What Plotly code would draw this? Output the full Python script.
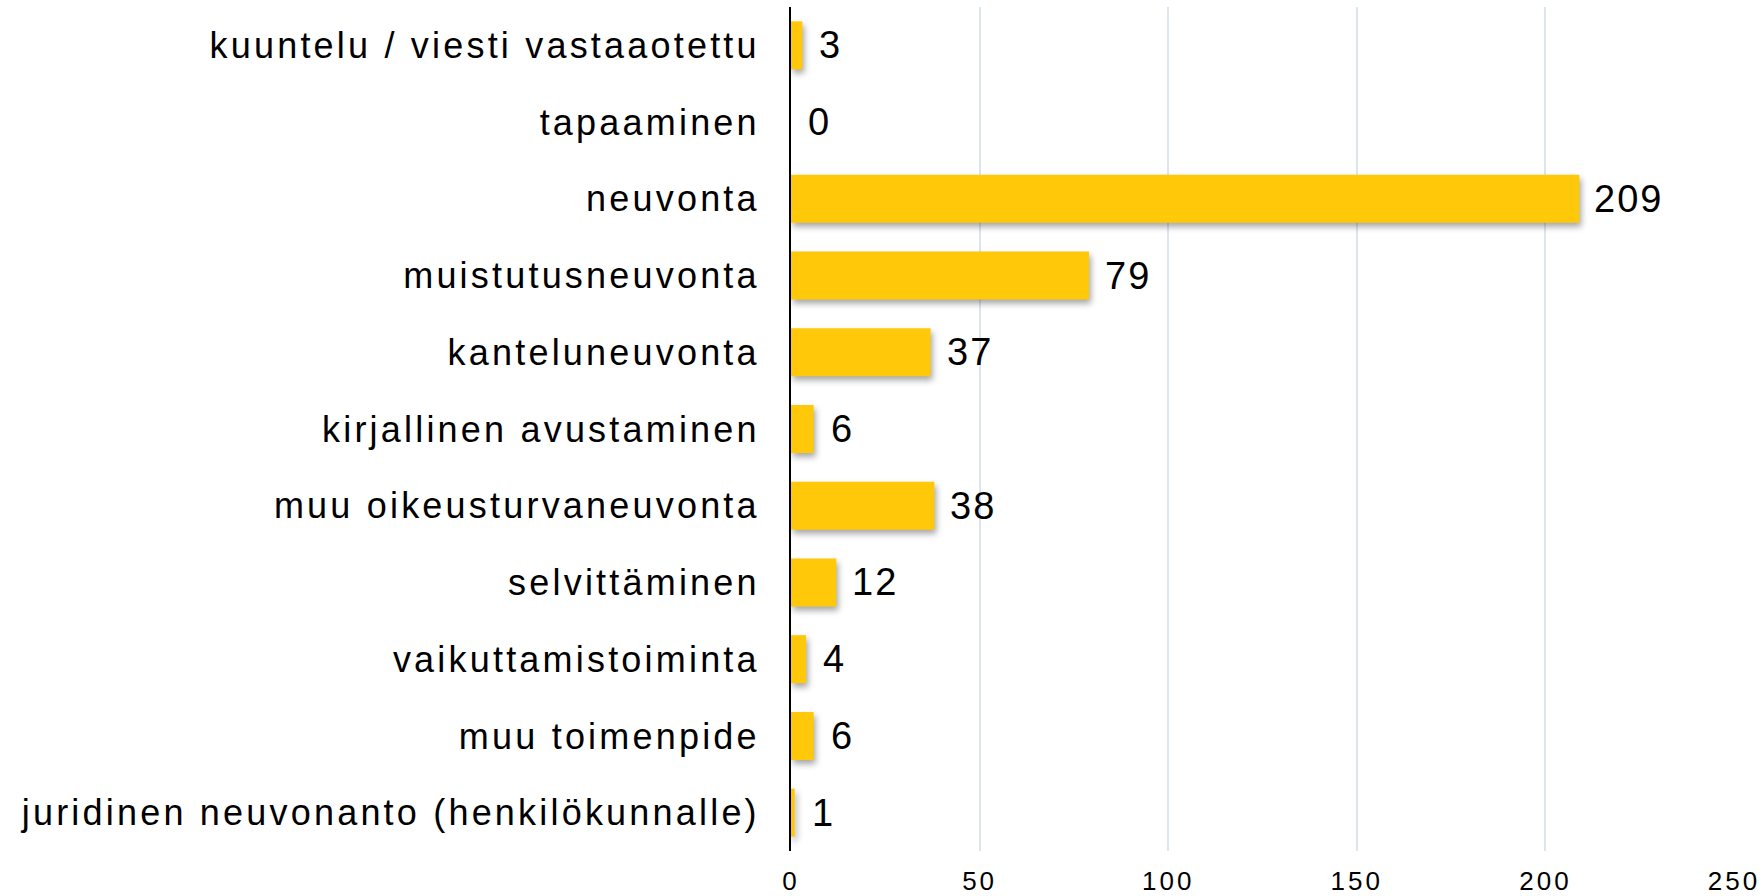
import plotly.graph_objects as go

categories = [
    "kuuntelu / viesti vastaaotettu",
    "tapaaminen",
    "neuvonta",
    "muistutusneuvonta",
    "kanteluneuvonta",
    "kirjallinen avustaminen",
    "muu oikeusturvaneuvonta",
    "selvittäminen",
    "vaikuttamistoiminta",
    "muu toimenpide",
    "juridinen neuvonanto (henkilökunnalle)",
]
values = [3, 0, 209, 79, 37, 6, 38, 12, 4, 6, 1]
x_ticks = [0, 50, 100, 150, 200, 250]

FONT = "Arial, 'Liberation Sans', sans-serif"
BAR_COLOR = "#FFC90A"

fig = go.Figure()
fig.add_trace(go.Bar(
    x=values, y=categories, orientation="h",
    marker=dict(color=BAR_COLOR, line=dict(width=0)),
    hoverinfo="x+y",
))

for c, v in zip(categories, values):
    fig.add_annotation(
        x=v, y=c, xref="x", yref="y", text=str(v), showarrow=False,
        xanchor="left", yanchor="middle", xshift=16,
        font=dict(family=FONT, size=38, color="#000000"),
    )

fig.update_layout(
    width=1763, height=896,
    margin=dict(l=791, r=29, t=7, b=45, autoexpand=False),
    paper_bgcolor="white", plot_bgcolor="white",
    bargap=0.374, showlegend=False,
    font=dict(family=FONT, color="#000000"),
)
fig.update_xaxes(
    automargin=False,
    range=[0, 250], tickvals=x_ticks, ticktext=[str(t) for t in x_ticks],
    showgrid=True, gridcolor="#DCE5F0", gridwidth=1.5,
    zeroline=False, showline=False,
    ticks="outside", ticklen=7, tickcolor="rgba(0,0,0,0)",
    tickfont=dict(family=FONT, size=26, color="#000000"),
)
fig.update_yaxes(
    automargin=False,
    categoryorder="array", categoryarray=categories, autorange="reversed",
    showline=True, linecolor="#000000", linewidth=2,
    showgrid=False, zeroline=False,
    ticks="outside", ticklen=22, tickcolor="rgba(0,0,0,0)",
    tickfont=dict(family=FONT, size=36, color="#000000"),
)

post = """
document.body.style.margin='0';
document.body.style.overflow='hidden';
var gd = document.getElementById('{plot_id}');
function restyleText(){
  gd.querySelectorAll('.ytick text').forEach(function(t){ t.style.letterSpacing='3.2px'; });
  gd.querySelectorAll('.xtick text').forEach(function(t){ t.style.letterSpacing='3px'; });
  gd.querySelectorAll('.annotation-text').forEach(function(t){ t.style.letterSpacing='2px'; });
  gd.querySelectorAll('.bars .point path').forEach(function(p){ p.style.filter='drop-shadow(2px 4px 3px rgba(0,0,0,0.35))'; });
}
restyleText();
gd.on('plotly_afterplot', restyleText);
"""

fig.write_html("out.html", post_script=post, config={"displayModeBar": False})
